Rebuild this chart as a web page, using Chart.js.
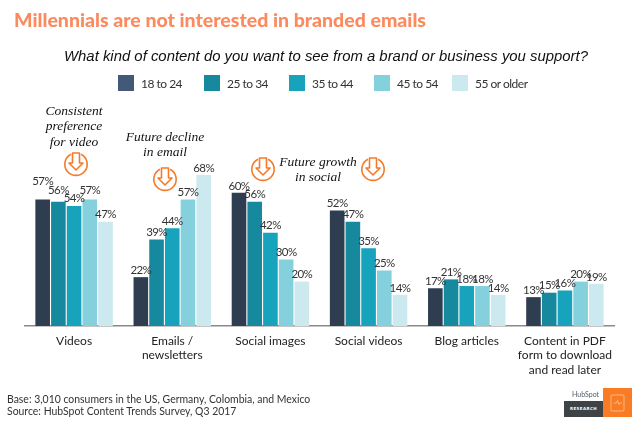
<!DOCTYPE html>
<html>
<head>
<meta charset="utf-8">
<script src="https://cdn.jsdelivr.net/npm/chart.js@4"></script>
<style>
  html, body { margin: 0; padding: 0; background: #fff; }
  #page { position: relative; width: 639px; height: 425px; overflow: hidden; font-family: Lato, sans-serif; }
  #page canvas { position: absolute; left: 0; top: 0; }
  .txt { position: absolute; white-space: nowrap; }
  #title { left: 14px; top: 7px; font: 900 19.5px/26px Lato, sans-serif; color: #fb8a5e; }
  #subtitle { left: 0; width: 652px; top: 46px; text-align: center; font: italic 14.9px/20px "Liberation Sans", sans-serif; color: #111; }
  .swatch { position: absolute; top: 75px; width: 16px; height: 16px; }
  .legtext { position: absolute; top: 75px; font: 12px/17px Lato, sans-serif; letter-spacing: -0.5px; color: #333; white-space: nowrap; }
  .note { position: absolute; text-align: center; font: italic 13.5px/15.3px "Liberation Serif", serif; color: #111; white-space: nowrap; transform: translateX(-50%); }
  .foot { position: absolute; left: 7px; font: 10.45px/13px Lato, sans-serif; color: #333; white-space: nowrap; }
  #logo-dark { position: absolute; left: 564px; top: 401px; width: 39px; height: 16px; background: #3d4347; color: #fff; font: 700 4px/16px "DejaVu Sans", sans-serif; text-align: center; letter-spacing: .4px; }
  #logo-orange { position: absolute; left: 603px; top: 388px; width: 29px; height: 29px; background: #f97b24; }
  #logo-text { position: absolute; left: 572px; top: 389px; font: 7px/10px Lato, sans-serif; color: #4d5d6c; }
  svg.icon { position: absolute; width: 26px; height: 26px; overflow: visible; }
</style>
</head>
<body>
<div id="page">
  <canvas id="chart" width="639" height="425"></canvas>
  <div class="txt" id="title">Millennials are not interested in branded emails</div>
  <div class="txt" id="subtitle">What kind of content do you want to see from a brand or business you support?</div>
  <div id="legend"></div>
  <div class="note" style="left:74px;top:103px">Consistent<br>preference<br>for video</div>
  <div class="note" style="left:165px;top:129px">Future decline<br>in email</div>
  <div class="note" style="left:318px;top:154px">Future growth<br>in social</div>
  <div id="icons"></div>
  <div class="foot" style="top:393px">Base: 3,010 consumers in the US, Germany, Colombia, and Mexico</div>
  <div class="foot" style="top:405px">Source: HubSpot Content Trends Survey, Q3 2017</div>
  <div id="logo-text">HubSpot</div>
  <div id="logo-dark">RESEARCH</div>
  <div id="logo-orange">
    <svg width="29" height="29" viewBox="0 0 29 29" fill="none" stroke="#fbc9a3" stroke-width="0.8">
      <rect x="8" y="7" width="13" height="16" rx="1"/>
      <path d="M11 15h2.500l1-2.500 1.500 4 1-1.500h2"/>
    </svg>
  </div>
</div>
<script>
const categories = [
  'Videos',
  ['Emails /', 'newsletters'],
  'Social images',
  'Social videos',
  'Blog articles',
  ['Content in PDF', 'form to download', 'and read later']
];
const ageGroups = ['18 to 24', '25 to 34', '35 to 44', '45 to 54', '55 or older'];
const age18to24 = [57, 22, 60, 52, 17, 13];
const age25to34 = [56, 39, 56, 47, 21, 15];
const age35to44 = [54, 44, 42, 35, 18, 16];
const age45to54 = [57, 57, 30, 25, 18, 20];
const age55plus = [47, 68, 20, 14, 14, 19];

const barColors = ['#2e3d4f', '#16899f', '#17a3bb', '#84d1dd', '#cbe9ef'];
const swatchColors = ['#44597a', '#16899f', '#17a3bb', '#84d1dd', '#cbe9ef'];
const swatchX = [118, 204, 289, 374, 452];
const iconCenters = [[76, 164], [165, 179], [263, 169], [373, 169]];

// labels in the Videos group sit higher than the rest
const labelLift = { '0:0': 11.5, '1:0': 4.5, '2:0': 1, '3:0': 2.5 };

// legend
const legendEl = document.getElementById('legend');
ageGroups.forEach((name, i) => {
  legendEl.innerHTML +=
    `<div class="swatch" style="left:${swatchX[i]}px;background:${swatchColors[i]}"></div>` +
    `<div class="legtext" style="left:${swatchX[i] + 23}px">${name}</div>`;
});

// orange arrow icons
document.getElementById('icons').innerHTML = iconCenters.map(([x, y]) =>
  `<svg class="icon" style="left:${x - 13}px;top:${y - 13}px" viewBox="-13 -13 26 26" fill="none" stroke="#f47b2a" stroke-width="1.6" stroke-linejoin="round">
     <path d="M-5 -9.800A11.200 11.200 0 1 0 5 -9.800"/>
     <path d="M-3.500 -11V-1H-7L0 6L7 -1H3.500V-11Z"/>
   </svg>`).join('');

const barLabels = {
  id: 'barLabels',
  afterDatasetsDraw(chart) {
    const ctx = chart.ctx;
    ctx.save();
    ctx.font = '11.5px Lato, sans-serif';
    ctx.letterSpacing = '-0.6px';
    ctx.fillStyle = '#333';
    ctx.textAlign = 'center';
    ctx.textBaseline = 'middle';
    chart.data.datasets.forEach((ds, d) => {
      chart.getDatasetMeta(d).data.forEach((bar, c) => {
        const lift = labelLift[d + ':' + c] || 0;
        ctx.fillText(ds.data[c] + '%', bar.x, bar.y - 7 - lift);
      });
    });
    ctx.restore();
  }
};

const seriesValues = [age18to24, age25to34, age35to44, age45to54, age55plus];

new Chart(document.getElementById('chart').getContext('2d'), {
  type: 'bar',
  data: {
    labels: categories,
    datasets: ageGroups.map((name, i) => ({
      label: name,
      data: seriesValues[i],
      backgroundColor: barColors[i],
      categoryPercentage: 0.8,
      barPercentage: 0.93
    }))
  },
  options: {
    responsive: false,
    animation: false,
    devicePixelRatio: 1,
    layout: { padding: { left: 25, right: 25, top: 104, bottom: 0 } },
    plugins: { legend: { display: false }, tooltip: { enabled: false } },
    scales: {
      x: {
        grid: { display: false },
        border: { color: '#8a8a8a', width: 1.5 },
        ticks: {
          color: '#222',
          font: { family: 'Lato, sans-serif', size: 12, lineHeight: 1.2 },
          padding: 0,
          maxRotation: 0,
          autoSkip: false
        },
        afterFit(scale) { scale.height = 99; }
      },
      y: {
        display: false,
        min: 0,
        max: 100
      }
    }
  },
  plugins: [barLabels]
});
</script>
</body>
</html>
